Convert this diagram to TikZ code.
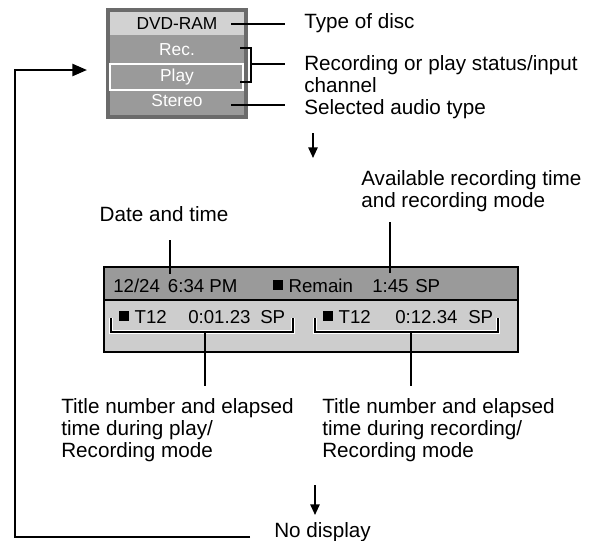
\documentclass[tikz,border=0pt]{standalone}
\usepackage{fontspec}
\setmainfont{Liberation Sans}
\usetikzlibrary{arrows.meta}
\definecolor{framegray}{HTML}{6B6B6B}
\definecolor{midgray}{HTML}{9A9A9A}
\definecolor{bandgray}{HTML}{D2D2D2}
\definecolor{rowgray}{HTML}{CDCDCD}
\tikzset{
 lbl/.style={anchor=base west,inner sep=0pt,align=left,font=\fontsize{15.5}{16.5}\selectfont},
 lcd/.style={anchor=base west,inner sep=0pt,font=\fontsize{14}{16}\selectfont},
 osd/.style={inner sep=0pt,font=\fontsize{13}{15}\selectfont},
 pointer/.style={line width=1.3pt},
 halo/.style={white,line width=3.2pt},
 loopline/.style={line width=1.8pt}
}
\newcommand{\blk}{\rule[1.2pt]{7.5pt}{7.5pt}\hspace{4pt}}

\begin{document}
\begin{tikzpicture}[x=0.75pt,y=-0.75pt]
\useasboundingbox (0,0) rectangle (596,540);
% on-screen display
\fill[framegray](106,8)rectangle(248,119);
\fill[midgray](110,12)rectangle(244,115);
\fill[bandgray](110,12)rectangle(244,35);
\draw[white,line width=1.5pt](110,64)rectangle(243,90);
\node[osd](dvdram)at(177,24){DVD-RAM};
\node[osd,white](rec)at(177,50){Rec.};
\node[osd,white](play)at(177,77){Play};
\node[osd,white](stereo)at(177,101){Stereo};
\node[lbl](disc)at(304,28){Type of disc};
\node[lbl](status)at(304,92){Recording or play status/input\\channel};
\node[lbl](audio)at(304,114){Selected audio type};
\coordinate(dvdtick)at(231,24);
\coordinate(brk)at(251,64);
\coordinate(sttick)at(231,105);
\draw[pointer,shorten >=14pt](dvdtick)--(dvdtick-|disc.west);
\draw[pointer](240,48)-|(251,82)--(240,82);
\draw[pointer,shorten >=14pt](brk)--(brk-|status.west);
\draw[pointer,shorten >=14pt](sttick)--(sttick-|audio.west);
\coordinate(down1)at(313,133);
\draw[pointer,-{Triangle[length=8pt,width=7pt]}](down1)--++(0,25);
% display panel
\node[lbl,anchor=base](datetime)at(164,221){Date and time};
\node[lbl](avail)at(361,207){Available recording time\\and recording mode};
\draw[line width=1pt,fill=midgray](104,267)rectangle(518,300);
\draw[line width=1pt,fill=rowgray](104,300)rectangle(518,352);
\node[lcd](date)at(113,292){12/24\hspace{6pt}6:34 PM};
\node[lcd](remain)at(273,292){\blk Remain};
\node[lcd](remtime)at(372,292){1:45\hspace{5pt}SP};
\node[lcd](ptitle)at(119,323){\blk T12};
\node[lcd](ptime)at(188,323){0:01.23};
\node[lcd](pmode)at(260,323){SP};
\node[lcd](rtitle)at(323,323){\blk T12};
\node[lcd](rtime)at(395,323){0:12.34};
\node[lcd](rmode)at(468,323){SP};
\coordinate(dtend)at(170,274);
\coordinate(avend)at(390,273);
\draw[pointer](dtend)--(170,240);
\draw[pointer](avend)--(390,222);
\draw[halo](111,318)|-(293,332)--(293,318);
\draw[halo](315,318)|-(498,332)--(498,318);
\draw[pointer](111,318)|-(293,332)--(293,318);
\draw[pointer](315,318)|-(498,332)--(498,318);
\coordinate(pbrk)at(205,332);
\coordinate(rbrk)at(411,332);
\draw[pointer](pbrk)--++(0,54);
\draw[pointer](rbrk)--++(0,54);
\node[lbl](playlbl)at(61,457){Title number and elapsed\\time during play/\\Recording mode};
\node[lbl](reclbl)at(322,457){Title number and elapsed\\time during recording/\\Recording mode};
\coordinate(down2)at(315,485);
\draw[pointer,-{Triangle[length=8pt,width=7pt]}](down2)--++(0,30);
\node[lbl](nodisp)at(274,537){No display};
% back to start
\coordinate(loopstart)at(250,537);
\draw[loopline,-{Triangle[length=11pt,width=9pt]}](loopstart)-|(15,70)--(87,70);
\end{tikzpicture}
\end{document}
